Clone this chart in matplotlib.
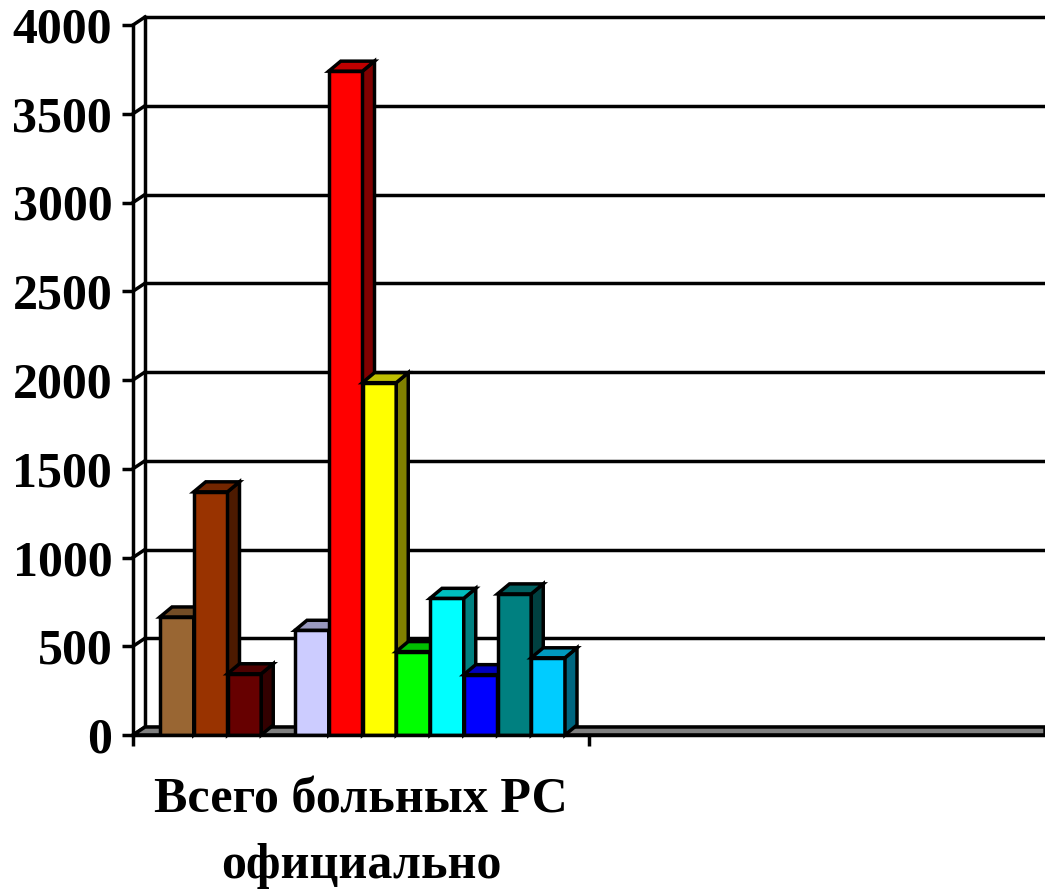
import numpy as np
import matplotlib
matplotlib.use('Agg')
from matplotlib import pyplot as plt

# значения столбцов (4-я позиция пустая)
values = [665, 1370, 345, None, 590, 3740, 1985, 470, 770, 340, 795, 435]
colors = ['#996633', '#993300', '#660000', None, '#CCCCFF', '#FF0000',
          '#FFFF00', '#00FF00', '#00FFFF', '#0000FF', '#008080', '#00CCFF']
category = 'Всего больных РС\nофициально'
yticks = list(range(0, 4001, 500))

plt.rcParams['font.family'] = ['Liberation Serif', 'DejaVu Serif']

fig = plt.figure(figsize=(10.45, 8.89), dpi=100)
ax = fig.add_axes([133 / 1045, (889 - 735) / 889, 912 / 1045, 710 / 889])
ax.set_xlim(0, 2)
ax.set_ylim(0, 4000)

px_x = 2 / 912      # один пиксель по x в единицах данных
px_y = 4000 / 710   # один пиксель по y
lw = 2.5

# глубина 3D
bdx, bdy = 12 * px_x, 10 * px_y   # столбцы
wdx, wdy = 12 * px_x, 8 * px_y    # стенка / пол

# сетка на задней стенке
for v in yticks:
    ax.plot([wdx, 2], [v + wdy, v + wdy], color='black', lw=lw, clip_on=False, zorder=1)
    ax.plot([0, wdx], [v, v + wdy], color='black', lw=lw, clip_on=False, zorder=1)
ax.plot([wdx, wdx], [wdy, 4000 + wdy], color='black', lw=lw, clip_on=False, zorder=1)

# пол
ax.fill([0, wdx, 2, 2], [0, wdy, wdy, 0], facecolor='#808080', edgecolor='black',
        lw=lw, clip_on=False, zorder=2)


def shade(c, k):
    r, g, b = matplotlib.colors.to_rgb(c)
    return (r * k, g * k, b * k)


left0 = 27 * px_x
slot = 33.75 * px_x
for i, (v, c) in enumerate(zip(values, colors)):
    if v is None:
        continue
    l = left0 + i * slot
    r = l + slot
    z = 3 + i
    ax.bar(l, v, width=slot, align='edge', color=c, edgecolor='black', lw=lw, zorder=z)
    ax.fill([r, r + bdx, r + bdx, r], [0, bdy, v + bdy, v], facecolor=shade(c, 0.5),
            edgecolor='black', lw=lw, zorder=z, clip_on=False)
    ax.fill([l, r, r + bdx, l + bdx], [v, v, v + bdy, v + bdy], facecolor=shade(c, 0.75),
            edgecolor='black', lw=lw, zorder=z, clip_on=False)

# оси
for s in ['top', 'right']:
    ax.spines[s].set_visible(False)
ax.spines['left'].set_linewidth(lw)
ax.spines['bottom'].set_linewidth(lw)
ax.spines['bottom'].set_zorder(20)
ax.set_yticks(yticks)
ax.set_xticks([0, 1])
ax.set_xticklabels([])
ax.tick_params(axis='y', length=8, width=lw, pad=7,
               labelsize=36)
ax.tick_params(axis='x', length=8, width=lw)
for t in ax.get_yticklabels():
    t.set_fontweight('bold')

ax.text(0.5, -0.06, category, transform=ax.get_xaxis_transform(), ha='center', va='top',
        fontsize=36, fontweight='bold', linespacing=1.55)

fig.savefig('out.png', dpi=100)
